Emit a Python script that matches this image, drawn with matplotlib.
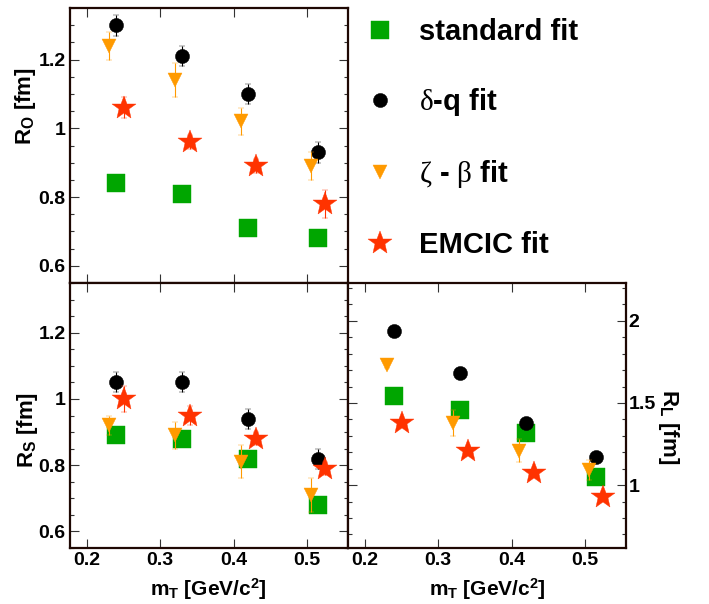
import matplotlib
matplotlib.use("Agg")
import matplotlib.pyplot as plt
from matplotlib.ticker import MultipleLocator, FuncFormatter

plt.rcParams['font.family'] = ['Liberation Sans', 'DejaVu Sans']
plt.rcParams['font.weight'] = 'bold'
plt.rcParams['mathtext.fontset'] = 'custom'
plt.rcParams['mathtext.rm'] = 'Liberation Sans:bold'
plt.rcParams['mathtext.bf'] = 'Liberation Sans:bold'
plt.rcParams['mathtext.sf'] = 'Liberation Sans:bold'
plt.rcParams['mathtext.it'] = 'Liberation Serif:style=normal:weight=normal'

# ---------------- data ----------------
mt_std = [0.24, 0.33, 0.42, 0.515]
mt_dq = [0.24, 0.33, 0.42, 0.515]
mt_zb = [0.23, 0.32, 0.41, 0.505]
mt_em = [0.25, 0.34, 0.43, 0.525]

# R_out
ro_std = [0.84, 0.81, 0.71, 0.68]
ro_std_err = [0.01, 0.01, 0.01, 0.01]
ro_dq = [1.30, 1.21, 1.10, 0.93]
ro_dq_err = [0.03, 0.03, 0.03, 0.03]
ro_zb = [1.24, 1.14, 1.02, 0.89]
ro_zb_err = [0.04, 0.05, 0.04, 0.04]
ro_em = [1.06, 0.96, 0.89, 0.78]
ro_em_err = [0.03, 0.02, 0.02, 0.04]

# R_side
rs_std = [0.89, 0.88, 0.82, 0.68]
rs_std_err = [0.01, 0.01, 0.01, 0.01]
rs_dq = [1.05, 1.05, 0.94, 0.82]
rs_dq_err = [0.03, 0.03, 0.03, 0.03]
rs_zb = [0.92, 0.89, 0.81, 0.71]
rs_zb_err = [0.03, 0.04, 0.05, 0.05]
rs_em = [1.00, 0.95, 0.88, 0.79]
rs_em_err = [0.04, 0.03, 0.02, 0.02]

# R_long
rl_std = [1.54, 1.46, 1.32, 1.05]
rl_std_err = [0.01, 0.01, 0.01, 0.01]
rl_dq = [1.94, 1.68, 1.375, 1.17]
rl_dq_err = [0.02, 0.02, 0.02, 0.02]
rl_zb = [1.73, 1.38, 1.21, 1.09]
rl_zb_err = [0.02, 0.08, 0.07, 0.06]
rl_em = [1.38, 1.21, 1.075, 0.93]
rl_em_err = [0.02, 0.02, 0.02, 0.02]

labels = ["standard fit", r"$\delta$-q fit", r"$\zeta$ - $\beta$ fit", "EMCIC fit"]

# ---------------- styles ----------------
C_STD = '#00a600'
C_DQ = '#000000'
C_ZB = '#ff9a00'
C_EM = '#ff3300'
FRAME = '#1e0803'

W, H = 709, 604
fig = plt.figure(figsize=(W / 100, H / 100), dpi=100)

def px_axes(x0, y0, x1, y1):
    return fig.add_axes([x0 / W, 1 - y1 / H, (x1 - x0) / W, (y1 - y0) / H])

ax_o = px_axes(70, 8, 348, 283)
ax_s = px_axes(70, 283, 348, 548)
ax_l = px_axes(348, 283, 626, 548)

def draw(ax, ystd, estd, ydq, edq, yzb, ezb, yem, eem):
    kw = dict(ls='none', elinewidth=0.8, capsize=2.2, capthick=0.8, mew=0.3)
    h1 = ax.errorbar(mt_std, ystd, yerr=estd, fmt='s', ms=12.7, color=C_STD, mec=C_STD, zorder=3, **kw)
    h2 = ax.errorbar(mt_dq, ydq, yerr=edq, fmt='o', ms=10.2, color=C_DQ, mec=C_DQ, zorder=4, **kw)
    h3 = ax.errorbar(mt_zb, yzb, yerr=ezb, fmt='v', ms=10.0, color=C_ZB, mec=C_ZB, zorder=5, **kw)
    h4 = ax.errorbar(mt_em, yem, yerr=eem, fmt='*', ms=18, color=C_EM, mec=C_EM, zorder=6, **kw)
    return [h1[0], h2[0], h3[0], h4[0]]

handles = draw(ax_o, ro_std, ro_std_err, ro_dq, ro_dq_err, ro_zb, ro_zb_err, ro_em, ro_em_err)
draw(ax_s, rs_std, rs_std_err, rs_dq, rs_dq_err, rs_zb, rs_zb_err, rs_em, rs_em_err)
draw(ax_l, rl_std, rl_std_err, rl_dq, rl_dq_err, rl_zb, rl_zb_err, rl_em, rl_em_err)

fmt = FuncFormatter(lambda v, p: ('%g' % round(v, 3)))

for ax in (ax_o, ax_s, ax_l):
    ax.set_xlim(0.177, 0.556)
    ax.xaxis.set_major_locator(MultipleLocator(0.1))
    ax.xaxis.set_major_formatter(fmt)
    ax.tick_params(axis='both', which='both', direction='in', top=True, right=True,
                   color='#333333', width=0.8, labelsize=14, pad=3)
    ax.tick_params(axis='both', which='major', length=6.5)
    ax.tick_params(axis='y', which='minor', length=3.2)
    ax.tick_params(axis='x', which='minor', length=0)
    for sp in ax.spines.values():
        sp.set_color(FRAME)
        sp.set_linewidth(1.6)
        sp.set_zorder(10)

for ax in (ax_o, ax_s):
    ax.set_ylim(0.55, 1.35)
    ax.yaxis.set_major_locator(MultipleLocator(0.2))
    ax.yaxis.set_minor_locator(MultipleLocator(0.05))
    ax.yaxis.set_major_formatter(fmt)

ax_o.tick_params(axis='x', labelbottom=False)

ax_l.set_ylim(0.617, 2.23)
ax_l.yaxis.set_major_locator(MultipleLocator(0.5))
ax_l.yaxis.set_minor_locator(MultipleLocator(0.1))
ax_l.yaxis.set_major_formatter(fmt)
ax_l.tick_params(axis='y', labelleft=False, labelright=True, pad=2)

for t in ax_o.get_xticklabels() + ax_s.get_xticklabels() + ax_l.get_xticklabels() + \
         ax_o.get_yticklabels() + ax_s.get_yticklabels() + ax_l.get_yticklabels():
    t.set_fontweight('bold')

# axis titles
fig.text(25 / W, 1 - 106 / H, r"R$_\mathrm{O}$ [fm]", rotation=90, ha='center', va='center', fontsize=16)
fig.text(27 / W, 1 - 430 / H, r"R$_\mathrm{S}$ [fm]", rotation=90, ha='center', va='center', fontsize=16)
fig.text(668 / W, 1 - 427 / H, r"R$_\mathrm{L}$ [fm]", rotation=270, ha='center', va='center', fontsize=16)
fig.text(208 / W, 1 - 589 / H, r"m$_\mathrm{T}$ [GeV/c$^\mathrm{2}$]", ha='center', va='center', fontsize=15)
fig.text(487 / W, 1 - 589 / H, r"m$_\mathrm{T}$ [GeV/c$^\mathrm{2}$]", ha='center', va='center', fontsize=15)

# legend
fig.legend(handles, labels, loc='upper left', bbox_to_anchor=(365 / W, 1 - 18 / H),
           bbox_transform=fig.transFigure, frameon=False, fontsize=21,
           labelspacing=1.38, handlelength=1.0, handletextpad=0.85,
           borderpad=0, borderaxespad=0, numpoints=1)

fig.savefig('out.png', dpi=100)
